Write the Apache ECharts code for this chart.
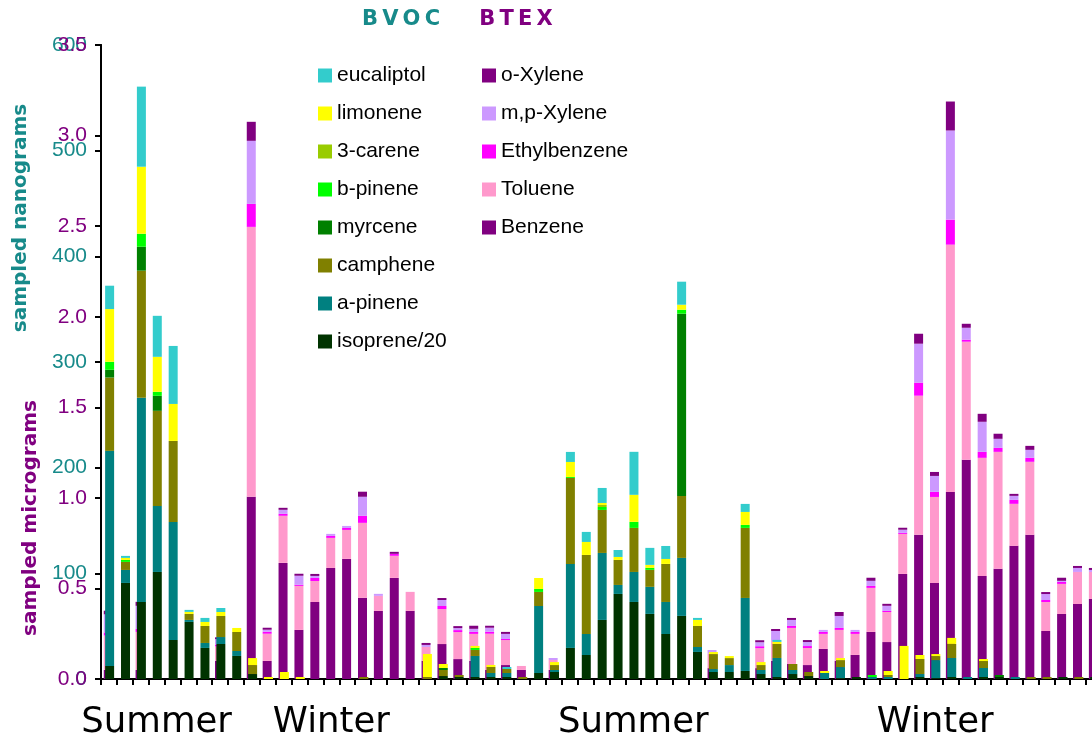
<!DOCTYPE html>
<html>
<head>
<meta charset="utf-8">
<script src="https://cdn.jsdelivr.net/npm/echarts@6/dist/echarts.min.js"></script>
<style>
html,body{margin:0;padding:0;background:#fff;}
#chart{width:1092px;height:742px;}
</style>
</head>
<body>
<div id="chart"></div>
<script>
// ---- category labels (63 samples) ----
const categories = [
 '','','','Summer','','','','','','','','','','','Winter','','','','','','',
 '','','','','','','','','','','','','Summer','','','','','','','','',
 '','','','','','','','','','','Winter','','','','','','','','','',''
];

// ---- BVOC (sampled nanograms) ----
const isoprene20 = [12.3,90.9,72.9,101.3,36.9,54.0,29.4,33.1,21.8,4.7,0,0,0,0,0,0,0,0,0,0,0,2.8,1.9,1.9,1.9,1.9,0,5.7,6.6,29.4,22.7,55.9,80.5,72.9,61.6,42.6,59.7,25.6,6.6,6.6,7.6,4.7,1.9,4.7,2.8,0,0.9,1.9,0,0,0,1.9,0.9,1.9,0,1.9,1.9,0,0,0,1.9,0,1.9];
const aPinene    = [203.6,12.3,193.2,62.5,111.7,1.9,4.7,6.6,4.7,0,0,0,0,0,0,0,0,0,0,0,0,0,0,19.9,3.8,3.8,0,63.4,1.9,79.5,19.9,63.4,8.5,28.4,25.6,30.3,54.9,4.7,2.8,6.6,69.1,3.8,18.0,3.8,0,5.7,10.4,0,1.9,1.9,0,2.8,17.0,18.0,1.9,8.5,0,1.9,0,0,0,0,0];
const camphene   = [69.4,7.6,120.3,90.0,76.7,5.7,16.1,19.9,18.0,8.5,0,0,0,0,0,0,1.9,0,0,0,1.9,5.7,1.9,5.7,5.7,3.8,1.9,13.3,4.7,81.4,74.8,40.7,23.7,41.7,16.1,36.0,58.7,19.9,14.2,6.6,66.3,4.7,13.3,5.7,3.8,0,6.6,0,0,1.9,0,14.2,3.8,13.3,0,6.6,0,0,1.9,1.9,0,1.9,0];
const myrcene    = [7.3,0,22.7,14.2,0,0,0,0,0,0,0,0,0,0,0,0,0,0,0,0,0,1.9,0,0,0,0,0,0,0,0,0,0,0,0,0,0,172.4,0,0,0,0,0,0,0,0,0,0,0,0,0,0,0,0,0,0,0,1.9,0,0,0,0,0,0];
const bPinene    = [7.6,1.9,12.3,3.8,0,0,0,0,0,0,0,0,0,0,0,0,0,0,0,0,0,0,0,1.9,0,0,0,2.8,0,0.9,0,2.8,0,5.7,1.9,0,3.8,0,0,0,2.8,0,0,0,0,0,0,0,1.9,0,0,0,0,0,0,0,0,0,0,0,0,0,0];
const carene3    = [0,0,0,0,0,0,0,0,0,0,0,0,0,0,0,0,0,0,0,0,0,0,0,0,0,0,0,0,0,0,0,1.9,0,0,0,0,0,0,0,0,0,0,0,0,0,0,0,0,0,0,0,0,0,0,0,0,0,0,0,0,0,0,0];
const limonene   = [49.9,1.9,63.4,33.1,35.0,1.9,3.8,3.8,3.8,6.6,1.9,6.6,1.9,0,0,0,0,0,0,0,21.8,3.8,0,1.9,1.9,0,0,10.4,2.8,14.2,12.3,1.9,2.8,25.6,2.8,4.7,4.7,5.7,1.9,1.9,12.3,2.8,1.9,0,0,1.9,1.9,0,0,3.8,31.3,3.8,1.9,5.7,0,1.9,0,0,0,0,0,0,0];
const eucaliptol = [22.1,1.9,75.8,38.8,54.9,1.9,3.8,3.8,0,0,0,0,0,0,0,0,0,0,0,0,0,0,0,0,0,1.9,0,0,0,9.5,9.5,14.2,6.6,40.7,16.1,12.3,21.8,1.9,0,0,7.6,0,1.9,0,0,0,0,0,0,0,0,0,0,0,0,0,0,0,0,0,0,0,0];

// ---- BTEX (sampled micrograms) ----
const benzene      = [0.05,0,0.05,0,0,0,0,0.1,0,1.006,0.1,0.641,0.271,0.425,0.613,0.663,0.448,0.376,0.558,0.376,0.1,0.193,0.11,0.1,0.05,0.077,0.05,0,0.05,0,0,0,0,0,0,0,0,0,0.06,0,0,0.06,0.1,0.083,0.077,0.166,0.1,0.133,0.26,0.204,0.58,0.796,0.53,1.033,1.21,0.569,0.608,0.735,0.796,0.265,0.359,0.414,0.442];
const toluene      = [0.19,0,0.21,0,0,0,0,0.08,0,1.49,0.15,0.26,0.243,0.116,0.166,0.16,0.414,0.083,0.122,0.105,0.077,0.193,0.149,0.149,0.2,0.138,0.022,0,0.055,0,0,0,0,0,0,0,0,0,0.08,0,0,0.11,0.11,0.199,0.094,0.083,0.171,0.116,0.243,0.166,0.221,0.768,0.475,1.365,0.652,0.652,0.646,0.232,0.403,0.16,0.166,0.177,0.149];
const ethylbenzene = [0.017,0,0.017,0,0,0,0,0.01,0,0.127,0.011,0.011,0.006,0.017,0.011,0.011,0.039,0,0.011,0,0,0.017,0.011,0.011,0.011,0.006,0,0,0,0,0,0,0,0,0,0,0,0,0,0,0,0.011,0,0.011,0.011,0.011,0.011,0.011,0.011,0.006,0.006,0.072,0.028,0.138,0.011,0.033,0.022,0.022,0.022,0.011,0.011,0,0];
const mpXylene     = [0.1,0,0.127,0,0,0,0,0.03,0,0.348,0.011,0.022,0.05,0.011,0.011,0.011,0.105,0.011,0,0,0.011,0.033,0.011,0.017,0.022,0.028,0,0,0.011,0,0,0,0,0,0,0,0,0,0.02,0,0,0.022,0.055,0.033,0.022,0.011,0.066,0.011,0.028,0.028,0.017,0.215,0.088,0.492,0.066,0.166,0.05,0.022,0.044,0.033,0.006,0.022,0.011];
const oXylene      = [0.02,0,0.022,0,0,0,0,0.01,0,0.105,0.011,0.011,0.011,0.011,0,0,0.028,0,0.011,0,0.011,0.011,0.011,0.017,0.011,0.011,0,0,0,0,0,0,0,0,0,0,0,0,0,0,0,0.011,0.011,0.011,0.011,0,0.022,0,0.017,0.011,0.011,0.055,0.022,0.16,0.022,0.044,0.028,0.011,0.022,0.011,0.017,0.011,0.011];

// ---- axis ticks ----
const ngTicks = [0,100,200,300,400,500,600];
const ugTicks = [0,0.5,1.0,1.5,2.0,2.5,3.0,3.5];

const TEAL = '#178a8a', PURPLE = '#800080';
const bvocDefs = [
  ['isoprene/20', isoprene20, '#003300'],
  ['a-pinene', aPinene, '#008080'],
  ['camphene', camphene, '#808000'],
  ['myrcene', myrcene, '#008000'],
  ['b-pinene', bPinene, '#00FF00'],
  ['3-carene', carene3, '#99CC00'],
  ['limonene', limonene, '#FFFF00'],
  ['eucaliptol', eucaliptol, '#33CCCC']
];
const btexDefs = [
  ['Benzene', benzene, '#800080'],
  ['Toluene', toluene, '#FF99CC'],
  ['Ethylbenzene', ethylbenzene, '#FF00FF'],
  ['m,p-Xylene', mpXylene, '#CC99FF'],
  ['o-Xylene', oXylene, '#800080']
];

const series = [];
btexDefs.forEach(d => series.push({
  name: d[0], type: 'bar', stack: 'btex', xAxisIndex: 0, yAxisIndex: 1,
  data: d[1], barWidth: 9, barGap: '-85%', z: 2,
  itemStyle: {color: d[2]}, emphasis: {disabled: true}
}));
bvocDefs.forEach(d => series.push({
  name: d[0], type: 'bar', stack: 'bvoc', xAxisIndex: 0, yAxisIndex: 0,
  data: d[1], barWidth: 9, barGap: '-85%', z: 3,
  itemStyle: {color: d[2]}, emphasis: {disabled: true}
}));

const labelFont = 'Liberation Sans, Arial, sans-serif';
const wideFont = '"DejaVu Sans", Verdana, sans-serif';
const legendText = {fontSize: 21, lineHeight: 20, color: '#000', fontFamily: labelFont};
const chart = echarts.init(document.getElementById('chart'));
chart.setOption({
  animation: false,
  backgroundColor: '#fff',
  grid: {left: 101, top: 45, width: 1001, height: 634, containLabel: false, outerBoundsMode: 'none'},
  legend: [
    {
      data: bvocDefs.map(d => d[0]).reverse(),
      orient: 'vertical', left: 318, top: 65, padding: 0,
      itemWidth: 14, itemHeight: 14, itemGap: 17, icon: 'rect',
      selectedMode: false, textStyle: legendText
    },
    {
      data: btexDefs.map(d => d[0]).reverse(),
      orient: 'vertical', left: 482, top: 65, padding: 0,
      itemWidth: 14, itemHeight: 14, itemGap: 17, icon: 'rect',
      selectedMode: false, textStyle: legendText
    }
  ],
  xAxis: [
    {
      type: 'category', data: categories, position: 'bottom',
      axisLine: {show: true, lineStyle: {color: '#000', width: 2}},
      axisTick: {show: true, interval: 0, length: 6, lineStyle: {color: '#000', width: 2}},
      axisLabel: {interval: 0, margin: 26, fontSize: 35.5, color: '#000', fontFamily: wideFont, hideOverlap: false},
      splitLine: {show: false}
    },
    {
      type: 'category', data: categories, position: 'top',
      axisLine: {show: true, lineStyle: {color: '#000', width: 2}},
      axisTick: {show: false}, axisLabel: {show: false}, splitLine: {show: false}
    }
  ],
  yAxis: [
    {
      type: 'value', position: 'left', min: ngTicks[0], max: ngTicks[ngTicks.length-1], interval: 100,
      axisLine: {show: true, lineStyle: {color: '#000', width: 2}},
      axisTick: {show: true, length: 6, lineStyle: {color: '#000', width: 2}},
      axisLabel: {color: TEAL, fontSize: 21, fontFamily: labelFont, margin: 14},
      splitLine: {show: false}
    },
    {
      type: 'value', position: 'left', offset: 0, min: ugTicks[0], max: ugTicks[ugTicks.length-1], interval: 0.5,
      axisLine: {show: true, lineStyle: {color: '#000', width: 2}},
      axisTick: {show: true, length: 6, lineStyle: {color: '#000', width: 2}},
      axisLabel: {color: PURPLE, fontSize: 21, fontFamily: labelFont, margin: 14, formatter: v => v.toFixed(1)},
      splitLine: {show: false}
    }
  ],
  graphic: [
    {type: 'text', x: 401, y: 20, style: {text: 'B\u2009V\u2009O\u2009C', fill: TEAL, font: 'bold 21px ' + wideFont, align: 'center', verticalAlign: 'middle'}},
    {type: 'text', x: 516, y: 20, style: {text: 'B\u2009T\u2009E\u2009X', fill: PURPLE, font: 'bold 21px ' + wideFont, align: 'center', verticalAlign: 'middle'}},
    {type: 'text', x: 21, y: 218, rotation: Math.PI / 2, style: {text: 'sampled nanograms', fill: TEAL, font: 'bold 20px ' + wideFont, align: 'center', verticalAlign: 'middle'}},
    {type: 'text', x: 31, y: 518, rotation: Math.PI / 2, style: {text: 'sampled micrograms', fill: PURPLE, font: 'bold 20px ' + wideFont, align: 'center', verticalAlign: 'middle'}}
  ],
  series: series
});
</script>
</body>
</html>
